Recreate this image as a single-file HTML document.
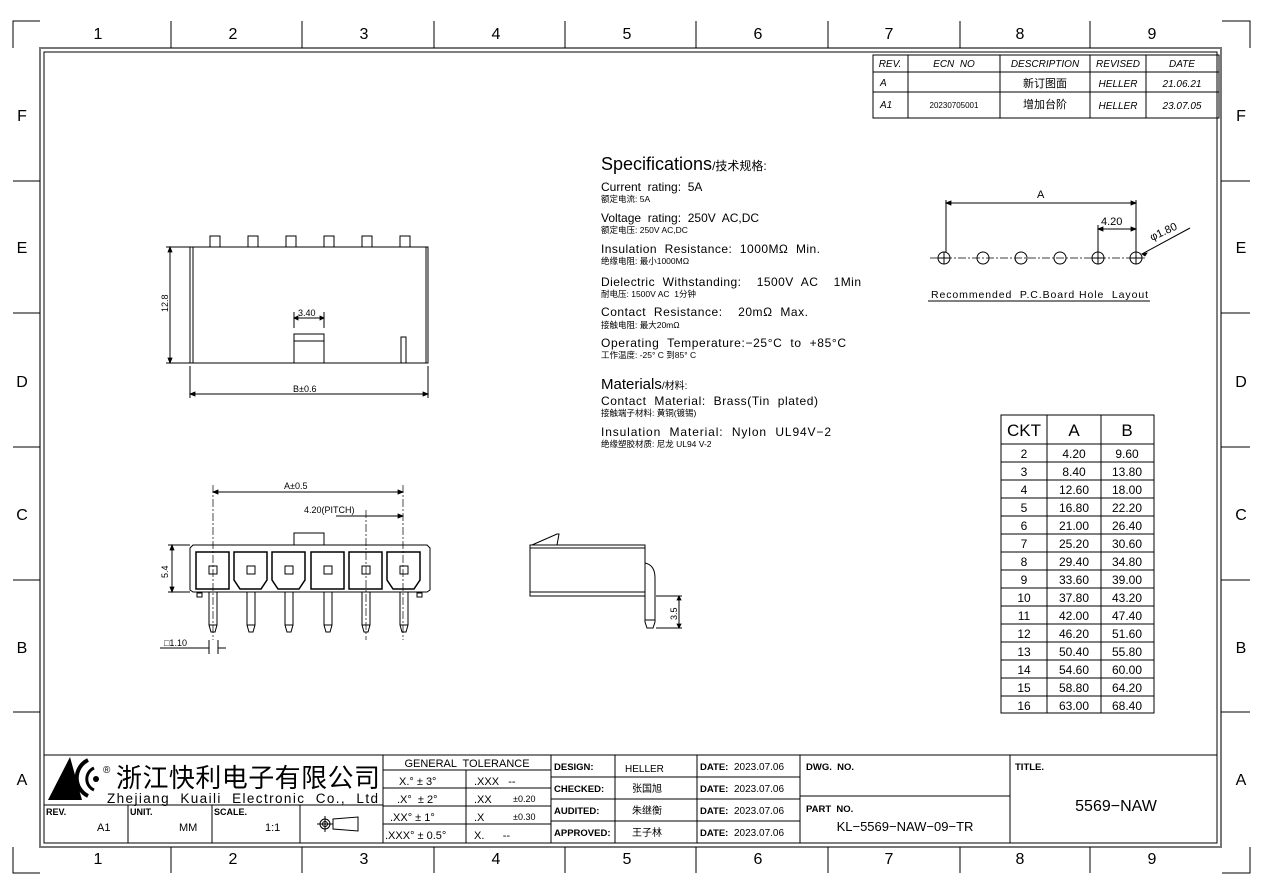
<!DOCTYPE html>
<html><head><meta charset="utf-8"><style>
html,body{margin:0;padding:0;background:#fff}
svg{display:block}
text{font-family:"Liberation Sans","Noto Sans CJK SC",sans-serif;fill:#000;white-space:pre}
</style></head><body>
<svg width="1262" height="892" viewBox="0 0 1262 892" xmlns="http://www.w3.org/2000/svg" xml:space="preserve">
<g stroke="#000" fill="none" stroke-width="1">
<rect x="40" y="48" width="1181" height="799" stroke="#777" stroke-width="2"/>
<rect x="44" y="52" width="1173" height="791"/>
<path d="M13 48V21H40 M1222 21H1250V48 M13 847V873H40 M1222 873H1250V847"/>
<path d="M171 21V48M302 21V48M434 21V48M565 21V48M696 21V48M828 21V48M960 21V48M1090 21V48"/>
<path d="M171 847V873M302 847V873M434 847V873M565 847V873M696 847V873M828 847V873M960 847V873M1090 847V873"/>
<path d="M13 181H40M13 313H40M13 447H40M13 580H40M13 712H40M1221 181H1250M1221 313H1250M1221 447H1250M1221 580H1250M1221 712H1250"/>
<rect x="873" y="55" width="346" height="63"/>
<path d="M873 72H1219M873 92H1219M908 55V118M1000 55V118M1090 55V118M1146 55V118"/>
<rect x="190" y="247" width="238" height="116"/>
<path d="M193 247V363M426 247V363"/>
<rect x="210" y="236" width="10" height="11"/><rect x="248" y="236" width="10" height="11"/><rect x="286" y="236" width="10" height="11"/><rect x="324" y="236" width="10" height="11"/><rect x="362" y="236" width="10" height="11"/><rect x="400" y="236" width="10" height="11"/>
<path d="M294 363V334H324V363M294 341H324"/>
<rect x="401" y="337" width="5" height="26"/>
<path d="M170 247V363M166 247H190M166 363H190"/>
<path d="M294 312V328M324 312V328M294 318H324"/>
<path d="M190 366V398M428 366V398M190 394H428"/>
<path d="M193 545H427L430 548V590L427 592H193L190 590V548Z"/>
<rect x="294" y="533" width="30" height="12"/>
<rect x="196" y="552" width="33" height="37" stroke-width="1.5"/>
<path d="M234 552H267V580L261 589H240L234 580Z" stroke-width="1.5"/>
<path d="M272 552H305V580L299 589H278L272 580Z" stroke-width="1.5"/>
<rect x="311" y="552" width="33" height="37" stroke-width="1.5"/>
<rect x="349" y="552" width="33" height="37" stroke-width="1.5"/>
<path d="M387 552H420V580L414 589H393L387 580Z" stroke-width="1.5"/>
<rect x="209" y="566" width="8" height="8"/><rect x="247" y="566" width="8" height="8"/><rect x="285" y="566" width="8" height="8"/><rect x="324" y="566" width="8" height="8"/><rect x="362" y="566" width="8" height="8"/><rect x="400" y="566" width="8" height="8"/>
<g id="pin"><path d="M209 592V625L211 632H215L217 625V592M209 625H217"/></g>
<use href="#pin" x="38"/><use href="#pin" x="76"/><use href="#pin" x="115"/><use href="#pin" x="153"/><use href="#pin" x="191"/>
<rect x="197" y="593" width="5" height="4"/><rect x="417" y="593" width="5" height="4"/>
<path d="M213 485V640M366 510V640M403 485V640" stroke-dasharray="8 2 2 2" stroke-width="0.7"/>
<path d="M213 492H403M336 516H403M172 545V592M168 545H190M168 592H190M209 640V654M218 640V654M200 648H209M218 648H226M160 648H200"/>
<rect x="530" y="545" width="115" height="51"/>
<path d="M530 548H645M530 592H645M532 545L557 534H559L557 545"/>
<path d="M645 563Q655 565 655 578V622L653 628H647L645 622V596M645 620H655"/>
<path d="M656 596H682M656 628H682M679 596V628"/>
<path d="M930 258H1145" stroke-dasharray="8 2 2 2" stroke-width="0.7"/>
<circle cx="944" cy="258" r="6"/><circle cx="983" cy="258" r="6"/><circle cx="1021" cy="258" r="6"/><circle cx="1060" cy="258" r="6"/><circle cx="1098" cy="258" r="6"/><circle cx="1136" cy="258" r="6"/>
<path d="M944 252V264M938 258H950M1098 252V264M1092 258H1104M1136 252V264M1130 258H1142"/>
<path d="M946 200V252M1136 200V252M946 203H1136M1098 225V252M1098 229H1136M1142 254L1190 228"/>
<path d="M928 301H1150"/>
<rect x="1001" y="415" width="153" height="298"/>
<path d="M1047 415V713M1101 415V713"/>
<path d="M1001 444H1154M1001 462H1154M1001 480H1154M1001 498H1154M1001 516H1154M1001 534H1154M1001 552H1154M1001 570H1154M1001 588H1154M1001 606H1154M1001 624H1154M1001 642H1154M1001 660H1154M1001 678H1154M1001 696H1154"/>
<path d="M44 755H1217"/>
<path d="M44 805H383M383 755V843M551 755V843M697 755V843M800 755V843M1010 755V843M128 805V843M212 805V843M300 805V843"/>
<path d="M383 770H551M383 788H551M383 806H551M383 824H551M466 770V843"/>
<path d="M551 777H800M551 799H800M551 821H800M615 755V843M800 796H1010"/>
<circle cx="325" cy="824" r="5"/><circle cx="325" cy="824" r="2.5"/><path d="M317 824H333M325 816V832M333 819L358 817V831L333 829Z"/>
</g>
<g fill="#000" stroke="#000" stroke-width="0.8">
<path d="M170 247l-2 5h4zM170 363l-2-5h4zM190 394l5-2v4zM428 394l-5-2v4zM213 492l5-2v4zM403 492l-5-2v4zM403 516l-5-2v4zM294 318l4-2v4zM324 318l-4-2v4zM172 545l-2 5h4zM172 592l-2-5h4zM946 203l5-2v4zM1136 203l-5-2v4zM1098 229l5-2v4zM1136 229l-5-2v4zM1142 254l5-1-2 3zM679 596l-2 4h4zM679 628l-2-4h4z"/>
</g>
<path d="M48 800L70 757L82 800Z" fill="#000"/>
<path d="M88 760a20 20 0 0 0 0 36" stroke="#000" stroke-width="4" fill="none"/>
<path d="M94 768a12 12 0 0 0 0 22" stroke="#000" stroke-width="3" fill="none"/>
<circle cx="96" cy="779" r="3" fill="#000"/>
<g font-size="16" text-anchor="middle">
<text x="98" y="39">1</text><text x="233" y="39">2</text><text x="364" y="39">3</text><text x="496" y="39">4</text><text x="627" y="39">5</text><text x="758" y="39">6</text><text x="889" y="39">7</text><text x="1020" y="39">8</text><text x="1152" y="39">9</text>
<text x="98" y="864">1</text><text x="233" y="864">2</text><text x="364" y="864">3</text><text x="496" y="864">4</text><text x="627" y="864">5</text><text x="758" y="864">6</text><text x="889" y="864">7</text><text x="1020" y="864">8</text><text x="1152" y="864">9</text>
<text x="22" y="121">F</text><text x="22" y="253">E</text><text x="22" y="387">D</text><text x="22" y="520">C</text><text x="22" y="653">B</text><text x="22" y="785">A</text>
<text x="1241" y="121">F</text><text x="1241" y="253">E</text><text x="1241" y="387">D</text><text x="1241" y="520">C</text><text x="1241" y="653">B</text><text x="1241" y="785">A</text>
</g>
<g font-size="10" font-style="italic" text-anchor="middle">
<text x="890" y="67">REV.</text><text x="954" y="67">ECN  NO</text><text x="1045" y="67">DESCRIPTION</text><text x="1118" y="67">REVISED</text><text x="1182" y="67">DATE</text>
<text x="880" y="86" text-anchor="start">A</text><text x="1045" y="87" font-style="normal" font-size="11">新订图面</text><text x="1118" y="87">HELLER</text><text x="1182" y="87">21.06.21</text>
<text x="880" y="108" text-anchor="start">A1</text><text x="954" y="108" font-style="normal" font-size="8">20230705001</text><text x="1045" y="108" font-style="normal" font-size="11">增加台阶</text><text x="1118" y="109">HELLER</text><text x="1182" y="109">23.07.05</text>
</g>
<g font-size="9">
<text x="168" y="312" transform="rotate(-90 168 312)">12.8</text>
<text x="298" y="316">3.40</text>
<text x="293" y="392">B±0.6</text>
<text x="284" y="489">A±0.5</text>
<text x="304" y="513">4.20(PITCH)</text>
<text x="168" y="578" transform="rotate(-90 168 578)">5.4</text>
<text x="164" y="646">□1.10</text>
<text x="677" y="620" transform="rotate(-90 677 620)">3.5</text>
<text x="1037" y="198" font-size="11">A</text>
<text x="1101" y="225" font-size="11">4.20</text>
<text x="1152" y="241" font-size="11" transform="rotate(-25 1152 241)">φ1.80</text>
<text x="931" y="298" font-size="10.5" textLength="217" lengthAdjust="spacing">Recommended  P.C.Board Hole  Layout</text>
</g>
<g>
<text x="601" y="170" font-size="18">Specifications<tspan font-size="12">/技术规格:</tspan></text>
<text x="601" y="191" font-size="12">Current  rating:  5A</text><text x="601" y="202" font-size="8.5">额定电流: 5A</text>
<text x="601" y="222" font-size="12">Voltage  rating:  250V  AC,DC</text><text x="601" y="233" font-size="8.5">额定电压: 250V AC,DC</text>
<text x="601" y="253" font-size="12" textLength="219" lengthAdjust="spacing">Insulation  Resistance:  1000MΩ  Min.</text><text x="601" y="264" font-size="8.5">绝缘电阻: 最小1000MΩ</text>
<text x="601" y="286" font-size="12" textLength="260" lengthAdjust="spacing">Dielectric  Withstanding:    1500V  AC    1Min</text><text x="601" y="297" font-size="8.5">耐电压: 1500V AC  1分钟</text>
<text x="601" y="316" font-size="12" textLength="207" lengthAdjust="spacing">Contact  Resistance:    20mΩ  Max.</text><text x="601" y="328" font-size="8.5">接触电阻: 最大20mΩ</text>
<text x="601" y="347" font-size="12" textLength="245" lengthAdjust="spacing">Operating  Temperature:−25°C  to  +85°C</text><text x="601" y="358" font-size="8.5">工作温度: -25° C 到85° C</text>
<text x="601" y="389" font-size="15">Materials<tspan font-size="10">/材料:</tspan></text>
<text x="601" y="405" font-size="12" textLength="217" lengthAdjust="spacing">Contact  Material:  Brass(Tin  plated)</text><text x="601" y="416" font-size="8.5">接触端子材料: 黄铜(镀锡)</text>
<text x="601" y="436" font-size="12" textLength="230" lengthAdjust="spacing">Insulation  Material:  Nylon  UL94V−2</text><text x="601" y="447" font-size="8.5">绝缘塑胶材质: 尼龙 UL94 V-2</text>
</g>
<g text-anchor="middle" font-size="12">
<text x="1024" y="436" font-size="17">CKT</text><text x="1074" y="436" font-size="17">A</text><text x="1127" y="436" font-size="17">B</text>
<text x="1024" y="458">2</text><text x="1074" y="458">4.20</text><text x="1127" y="458">9.60</text>
<text x="1024" y="476">3</text><text x="1074" y="476">8.40</text><text x="1127" y="476">13.80</text>
<text x="1024" y="494">4</text><text x="1074" y="494">12.60</text><text x="1127" y="494">18.00</text>
<text x="1024" y="512">5</text><text x="1074" y="512">16.80</text><text x="1127" y="512">22.20</text>
<text x="1024" y="530">6</text><text x="1074" y="530">21.00</text><text x="1127" y="530">26.40</text>
<text x="1024" y="548">7</text><text x="1074" y="548">25.20</text><text x="1127" y="548">30.60</text>
<text x="1024" y="566">8</text><text x="1074" y="566">29.40</text><text x="1127" y="566">34.80</text>
<text x="1024" y="584">9</text><text x="1074" y="584">33.60</text><text x="1127" y="584">39.00</text>
<text x="1024" y="602">10</text><text x="1074" y="602">37.80</text><text x="1127" y="602">43.20</text>
<text x="1024" y="620">11</text><text x="1074" y="620">42.00</text><text x="1127" y="620">47.40</text>
<text x="1024" y="638">12</text><text x="1074" y="638">46.20</text><text x="1127" y="638">51.60</text>
<text x="1024" y="656">13</text><text x="1074" y="656">50.40</text><text x="1127" y="656">55.80</text>
<text x="1024" y="674">14</text><text x="1074" y="674">54.60</text><text x="1127" y="674">60.00</text>
<text x="1024" y="692">15</text><text x="1074" y="692">58.80</text><text x="1127" y="692">64.20</text>
<text x="1024" y="710">16</text><text x="1074" y="710">63.00</text><text x="1127" y="710">68.40</text>
</g>
<text x="103" y="773" font-size="10">®</text>
<text x="116" y="787" font-size="26" textLength="264" lengthAdjust="spacing">浙江快利电子有限公司</text>
<text x="107" y="803" font-size="13.5" textLength="271" lengthAdjust="spacing">Zhejiang  Kuaili  Electronic  Co.,  Ltd</text>
<g font-size="9" font-weight="bold">
<text x="46" y="815">REV.</text><text x="130" y="815">UNIT.</text><text x="214" y="815">SCALE.</text>
</g>
<g font-size="11"><text x="97" y="831">A1</text><text x="179" y="831">MM</text><text x="265" y="831">1:1</text></g>
<g font-size="11">
<text x="467" y="767" text-anchor="middle">GENERAL  TOLERANCE</text>
<text x="399" y="785">X.° ± 3°</text><text x="474" y="785">.XXX   --</text>
<text x="397" y="803">.X°  ± 2°</text><text x="474" y="803">.XX</text><text x="513" y="802" font-size="9">±0.20</text>
<text x="390" y="821">.XX° ± 1°</text><text x="474" y="821">.X</text><text x="513" y="820" font-size="9">±0.30</text>
<text x="385" y="839">.XXX° ± 0.5°</text><text x="474" y="839">X.      --</text>
</g>
<g font-size="9.5" font-weight="bold">
<text x="554" y="770">DESIGN:</text><text x="554" y="792">CHECKED:</text><text x="554" y="814">AUDITED:</text><text x="554" y="836">APPROVED:</text>
<text x="700" y="770">DATE:</text><text x="700" y="792">DATE:</text><text x="700" y="814">DATE:</text><text x="700" y="836">DATE:</text>
<text x="806" y="770">DWG.  NO.</text><text x="806" y="812">PART  NO.</text><text x="1015" y="770">TITLE.</text>
</g>
<g font-size="10">
<text x="625" y="772">HELLER</text><text x="632" y="792">张国旭</text><text x="632" y="814">朱继衡</text><text x="632" y="836">王子林</text>
<text x="734" y="770">2023.07.06</text><text x="734" y="792">2023.07.06</text><text x="734" y="814">2023.07.06</text><text x="734" y="836">2023.07.06</text>
</g>
<text x="905" y="831" font-size="13" text-anchor="middle">KL−5569−NAW−09−TR</text>
<text x="1116" y="811" font-size="16" text-anchor="middle">5569−NAW</text>
</svg>
</body></html>
